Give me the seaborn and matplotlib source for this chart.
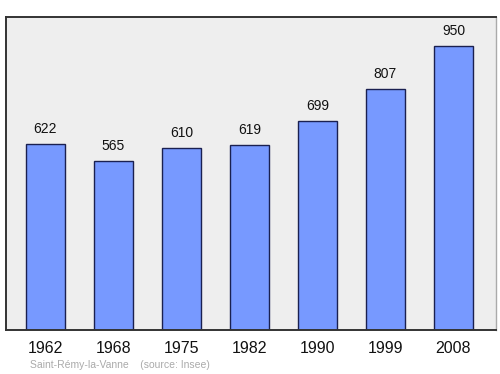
import matplotlib
matplotlib.use("Agg")
import matplotlib.pyplot as plt
import seaborn as sns
import pandas as pd

years = ["1962", "1968", "1975", "1982", "1990", "1999", "2008"]
population = [622, 565, 610, 619, 699, 807, 950]
commune = "Saint-Rémy-la-Vanne"
source = "(source: Insee)"

df = pd.DataFrame({"year": years, "pop": population})

sns.set_style("white")
plt.rcParams['font.family'] = ['Liberation Sans', 'DejaVu Sans']

fig = plt.figure(figsize=(5.0, 3.74), dpi=100)
ax = fig.add_axes([6/500, 1 - 330/374, 490/500, 313/374])
ax.set_facecolor("#eeeeee")

sns.barplot(data=df, x="year", y="pop", ax=ax, color="#7799ff", width=0.57,
            edgecolor="#1a2050", linewidth=1.0, saturation=1)

for i, v in enumerate(population):
    ax.text(i, v + 1047 * 0.025, str(v), ha="center", va="bottom", fontsize=10, color="#111111")

ax.set_ylim(0, 1047)
ax.set_xlim(-0.58, 6.625)
ax.set_xlabel("")
ax.set_ylabel("")
ax.set_yticks([])
ax.tick_params(axis="x", length=0, labelsize=11.5, pad=8, colors="#111111")

for s in ["left", "top", "bottom"]:
    ax.spines[s].set_color("#333333")
    ax.spines[s].set_linewidth(1.4)
ax.spines["right"].set_color("#aaaaaa")
ax.spines["right"].set_linewidth(1.0)

fig.text(30/500, 1 - 365/374, commune + "    " + source, fontsize=7.5, color="#aaaaaa",
         ha="left", va="center")

fig.savefig("out.png", dpi=100)
